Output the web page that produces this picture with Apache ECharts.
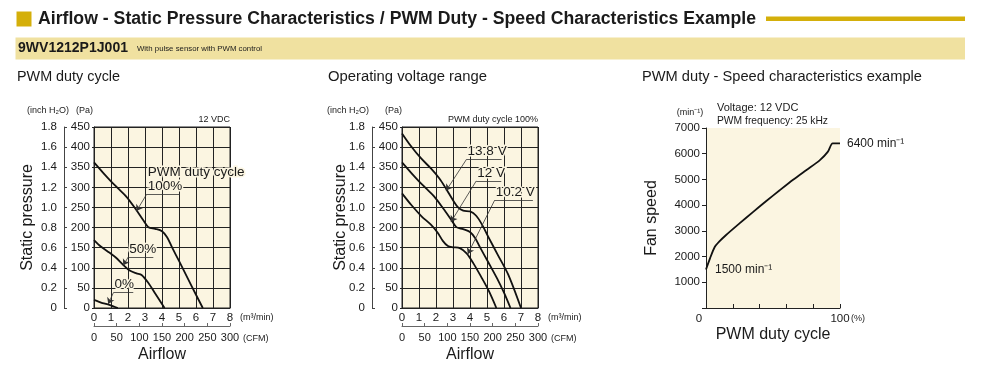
<!DOCTYPE html>
<html>
<head>
<meta charset="utf-8">
<script src="https://cdn.jsdelivr.net/npm/echarts@6/dist/echarts.min.js"></script>
<style>
html, body { margin: 0; padding: 0; background: #fff; }
#chart { width: 1000px; height: 376px; }
</style>
</head>
<body>
<div id="chart"></div>
<script>
// tick labels of the axes
const flowTicks = [0, 1, 2, 3, 4, 5, 6, 7, 8];            // m³/min
const cfmTicks = [0, 50, 100, 150, 200, 250, 300];        // CFM
const paTicks = [0, 50, 100, 150, 200, 250, 300, 350, 400, 450];
const inchTicks = [0, 0.2, 0.4, 0.6, 0.8, 1.0, 1.2, 1.4, 1.6, 1.8];
const rpmTicks = [0, 1000, 2000, 3000, 4000, 5000, 6000, 7000];
const dutyTicks = [0, 20, 40, 60, 80, 100];

// PWM duty cycle (12 VDC): airflow m³/min -> static pressure Pa
const duty100Flow = [0, 0.5, 1.0, 1.4, 1.9, 2.45, 2.9, 3.2, 3.6, 4.0, 4.3, 4.6, 5.0, 5.5, 6.0, 6.4];
const duty100Pa   = [362, 338, 315, 298, 277, 246, 218, 201, 197, 191, 176, 150, 117, 75, 33, 0];
const duty50Flow  = [0, 0.4, 0.9, 1.3, 1.7, 2.1, 2.5, 2.8, 3.2, 3.6, 4.15];
const duty50Pa    = [169, 153, 138, 125, 108, 93, 86, 82, 62, 36, 0];
const duty0Flow   = [0, 0.5, 0.9, 1.4];
const duty0Pa     = [20, 12, 8, 0];

// Operating voltage range (PWM duty cycle 100%)
const v138Flow = [0, 0.5, 1.1, 1.7, 2.2, 2.6, 3.0, 3.3, 3.6, 4.0, 4.35, 4.7, 5.1, 5.65, 6.25, 7.0];
const v138Pa   = [434, 404, 373, 347, 322, 296, 268, 250, 242, 240, 230, 208, 175, 131, 83, 0];
const v12Flow  = [0, 0.5, 1.0, 1.4, 1.9, 2.45, 2.9, 3.2, 3.6, 4.0, 4.3, 4.6, 5.1, 5.6, 6.0, 6.38];
const v12Pa    = [362, 338, 315, 298, 277, 246, 219, 201, 196, 189, 174, 150, 112, 73, 38, 0];
const v102Flow = [0, 0.55, 1.15, 1.7, 2.1, 2.4, 2.7, 3.0, 3.4, 3.8, 4.2, 4.65, 5.1, 5.55];
const v102Pa   = [285, 256, 228, 207, 187, 167, 154, 151, 149, 136, 111, 78, 43, 0];

// PWM duty - speed (12 VDC, 25 kHz)
const dutyPct = [0, 3, 6.5, 10, 15, 25, 35, 45, 55, 65, 75, 85, 91, 94.5, 100];
const fanRpm  = [1500, 1930, 2370, 2590, 2840, 3290, 3730, 4160, 4580, 4990, 5370, 5750, 6080, 6400, 6400];

const INK = '#1a1a1a';
const PLOT_BG = '#FBF5E1';
const BAND = '#F0E1A0';
const GOLD = '#D4AF0A';
const TXT = '"Liberation Sans", Arial, sans-serif';

const zip = (xs, ys) => xs.map((x, i) => [x, ys[i]]);
const range = t => ({ min: t[0], max: t[t.length - 1], interval: t[1] - t[0] });
const last = a => a[a.length - 1];

const ctx = document.createElement('canvas').getContext('2d');

// squeeze header texts to the width they take in the original
function text(str, x, y, font, opts) {
  opts = opts || {};
  let sx = 1;
  if (opts.width) {
    ctx.font = font;
    sx = opts.width / ctx.measureText(str).width;
  }
  return {
    type: 'text', x: x, y: y, scaleX: sx, silent: true,
    style: {
      text: str, font: font, fill: opts.fill || INK,
      textAlign: opts.align || 'left', textVerticalAlign: 'middle'
    }
  };
}

// label with an underline and an arrow pointing at the curve
function leader(label, from, to, tip) {
  return {
    silent: true,
    animation: false,
    symbol: ['none', 'none'],
    lineStyle: { color: '#333', width: 0.8, type: 'solid' },
    label: { show: false },
    emphasis: { disabled: true },
    data: [
      [{ coord: from, label: { show: true, position: 'insideStartTop', distance: 1,
          formatter: label, color: INK, fontSize: 13.5, lineHeight: 14, fontFamily: TXT,
          textBorderColor: PLOT_BG, textBorderWidth: 3 } },
       { coord: to }],
      [{ coord: from }, { coord: tip, symbol: 'arrow', symbolSize: 6 }]
    ]
  };
}

const tickLabel = { fontFamily: TXT, fontSize: 11.5, color: INK };
const black = { color: '#222', width: 1 };

function pressureX(g) {
  return [
    Object.assign({
      gridIndex: g, type: 'value', position: 'bottom',
      axisLine: { show: true, onZero: false, lineStyle: black }, axisTick: { show: false },
      axisLabel: Object.assign({ margin: 4 }, tickLabel),
      splitLine: { show: true, lineStyle: black },
      name: '(m³/min)', nameLocation: 'end', nameGap: 10, nameMoveOverlap: false,
      nameTextStyle: { fontSize: 9, fontFamily: TXT, color: INK, verticalAlign: 'top', padding: [5, 0, 0, 0] }
    }, range(flowTicks)),
    Object.assign({
      gridIndex: g, type: 'value', position: 'bottom', offset: 18,
      axisLine: { show: true, onZero: false, lineStyle: { color: '#666', width: 1 } },
      axisTick: { show: true, inside: true, length: 3, lineStyle: { color: '#666' } },
      axisLabel: Object.assign({}, tickLabel, { margin: 6, fontSize: 11 }),
      splitLine: { show: false },
      name: '(CFM)', nameLocation: 'end', nameGap: 13, nameMoveOverlap: false,
      nameTextStyle: { fontSize: 9, fontFamily: TXT, color: INK, verticalAlign: 'top', padding: [8, 0, 0, 0] }
    }, range(cfmTicks))
  ];
}

function pressureY(g, gap) {
  return [
    Object.assign({
      gridIndex: g, type: 'value', position: 'left',
      axisLine: { show: true, onZero: false, lineStyle: black },
      axisTick: { show: true, length: 2, lineStyle: black },
      axisLabel: Object.assign({ margin: 4 }, tickLabel),
      splitLine: { show: true, lineStyle: black }
    }, range(paTicks)),
    Object.assign({
      gridIndex: g, type: 'value', position: 'left', offset: 30,
      axisLine: { show: true, onZero: false, lineStyle: { color: '#444', width: 1 } },
      axisTick: { show: true, inside: true, length: 3, lineStyle: { color: '#444' } },
      axisLabel: Object.assign({ margin: 7, formatter: v => v === 0 ? '0' : v.toFixed(1) }, tickLabel),
      splitLine: { show: false },
      name: 'Static pressure', nameLocation: 'middle', nameGap: gap, nameMoveOverlap: false,
      nameTextStyle: { fontSize: 16, fontFamily: TXT, color: INK }
    }, range(inchTicks))
  ];
}

const curve = (xi, yi, data) => ({
  type: 'line', xAxisIndex: xi, yAxisIndex: yi, data: data,
  symbol: 'none', smooth: 0.3, silent: true,
  lineStyle: { color: '#111', width: 1.8 }
});

const chart = echarts.init(document.getElementById('chart'));

const option = {
  animation: false,
  grid: [
    { left: 94, top: 127, width: 136, height: 181, show: true, backgroundColor: PLOT_BG,
      borderColor: '#222', borderWidth: 1, containLabel: false },
    { left: 402, top: 127, width: 136, height: 181, show: true, backgroundColor: PLOT_BG,
      borderColor: '#222', borderWidth: 1, containLabel: false },
    { left: 706, top: 128, width: 134, height: 180, show: true, backgroundColor: PLOT_BG,
      borderWidth: 0, containLabel: false }
  ],
  xAxis: pressureX(0).concat(pressureX(1)).concat([
    Object.assign({
      gridIndex: 2, type: 'value', position: 'bottom',
      axisLine: { show: true, onZero: false, lineStyle: black },
      axisTick: { show: true, inside: true, length: 4, lineStyle: black },
      axisLabel: Object.assign({
        margin: 5,
        formatter: v => v === 0 ? '{z|0}' : (v === 100 ? '100' : ''),
        rich: { z: { fontFamily: TXT, fontSize: 11.5, color: INK, padding: [0, 14, 0, 0] } }
      }, tickLabel),
      splitLine: { show: false },
      name: '(%)', nameLocation: 'end', nameGap: 11, nameMoveOverlap: false,
      nameTextStyle: { fontSize: 9, fontFamily: TXT, color: INK, verticalAlign: 'top', padding: [6, 0, 0, 0] }
    }, range(dutyTicks)),
    {
      gridIndex: 2, type: 'value', position: 'bottom', show: true,
      min: 0, max: 100, axisLine: { show: false, onZero: false }, axisTick: { show: false },
      axisLabel: { show: false }, splitLine: { show: false },
      name: 'PWM duty cycle', nameLocation: 'middle', nameGap: 19, nameMoveOverlap: false,
      nameTextStyle: { fontSize: 16, fontFamily: TXT, color: INK, verticalAlign: 'top' }
    }
  ]),
  yAxis: pressureY(0, 28).concat(pressureY(1, 23)).concat([
    Object.assign({
      gridIndex: 2, type: 'value', position: 'left',
      axisLine: { show: true, onZero: false, lineStyle: black },
      axisTick: { show: true, length: 4, lineStyle: black },
      axisLabel: Object.assign({ margin: 6, formatter: v => v === 0 ? '' : String(v) }, tickLabel),
      splitLine: { show: false },
      name: 'Fan speed', nameLocation: 'middle', nameGap: 46, nameMoveOverlap: false,
      nameTextStyle: { fontSize: 16, fontFamily: TXT, color: INK }
    }, range(rpmTicks))
  ]),
  series: [
    Object.assign(curve(0, 0, zip(duty100Flow, duty100Pa)),
      { markLine: leader('PWM duty cycle\n100%', [3.1, 283], [5.05, 283], [2.5, 241]) }),
    Object.assign(curve(0, 0, zip(duty50Flow, duty50Pa)),
      { markLine: leader('50%', [2.02, 127], [3.49, 127], [1.72, 106]) }),
    Object.assign(curve(0, 0, zip(duty0Flow, duty0Pa)),
      { markLine: leader('0%', [1.14, 38], [2.31, 38], [0.84, 10]) }),

    Object.assign(curve(2, 2, zip(v138Flow, v138Pa)),
      { markLine: leader('13.8 V', [3.8, 370], [5.86, 370], [2.6, 292]) }),
    Object.assign(curve(2, 2, zip(v12Flow, v12Pa)),
      { markLine: leader('12 V', [4.37, 316], [5.84, 316], [2.88, 214]) }),
    Object.assign(curve(2, 2, zip(v102Flow, v102Pa)),
      { markLine: leader('10.2 V', [5.45, 268], [7.7, 268], [3.87, 134]) }),

    Object.assign(curve(4, 4, zip(dutyPct, fanRpm)), {
      smooth: 0.25, clip: false,
      markLine: {
        silent: true, animation: false, symbol: ['none', 'none'],
        lineStyle: { color: '#111', width: 1.8, type: 'solid' }, label: { show: false },
        data: [[{ coord: [last(dutyPct), last(fanRpm)] },
                { coord: [last(dutyPct) + 3.5, last(fanRpm)] }]]
      },
      markPoint: {
        silent: true, animation: false, symbol: 'circle', symbolSize: 0,
        label: { show: true, color: INK, fontFamily: TXT, fontSize: 12 },
        data: [
          { coord: [dutyPct[0], fanRpm[0]],
            label: { position: 'right', distance: 9, formatter: fanRpm[0] + ' min⁻¹' } },
          { coord: [last(dutyPct), last(fanRpm)],
            label: { position: 'right', distance: 7, formatter: last(fanRpm) + ' min⁻¹' } }
        ]
      }
    })
  ],
  graphic: [
    { type: 'rect', silent: true, shape: { x: 16.5, y: 11.5, width: 15, height: 15 }, style: { fill: GOLD } },
    text('Airflow - Static Pressure Characteristics / PWM Duty - Speed Characteristics Example',
      38, 19, 'bold 18px ' + TXT, { width: 718 }),
    { type: 'rect', silent: true, shape: { x: 766, y: 16.5, width: 199, height: 4.5 }, style: { fill: GOLD } },
    { type: 'rect', silent: true, shape: { x: 15.5, y: 37.5, width: 949.5, height: 22 }, style: { fill: BAND } },
    text('9WV1212P1J001', 18, 48.5, 'bold 14px ' + TXT, { width: 110 }),
    text('With pulse sensor with PWM control', 137, 49, '8px ' + TXT, { width: 125 }),

    text('PWM duty cycle', 17, 77.5, '14px ' + TXT, { width: 103 }),
    text('Operating voltage range', 328, 77.5, '14px ' + TXT, { width: 159 }),
    text('PWM duty - Speed characteristics example', 642, 77.5, '14px ' + TXT, { width: 280 }),

    text('(inch H₂O)', 27, 111, '9px ' + TXT),
    text('(Pa)', 76, 111, '9px ' + TXT),
    text('12 VDC', 230, 120, '9px ' + TXT, { align: 'right' }),
    text('Airflow', 162, 355, '16px ' + TXT, { align: 'center' }),

    text('(inch H₂O)', 327, 111, '9px ' + TXT),
    text('(Pa)', 385, 111, '9px ' + TXT),
    text('PWM duty cycle 100%', 538, 120, '9px ' + TXT, { align: 'right' }),
    text('Airflow', 470, 355, '16px ' + TXT, { align: 'center' }),

    text('(min⁻¹)', 690, 113, '9px ' + TXT, { align: 'center' }),
    text('Voltage: 12 VDC', 717, 107.5, '11px ' + TXT),
    text('PWM frequency: 25 kHz', 717, 120.5, '11px ' + TXT, { width: 111 })
  ]
};

chart.setOption(option);
</script>
</body>
</html>
